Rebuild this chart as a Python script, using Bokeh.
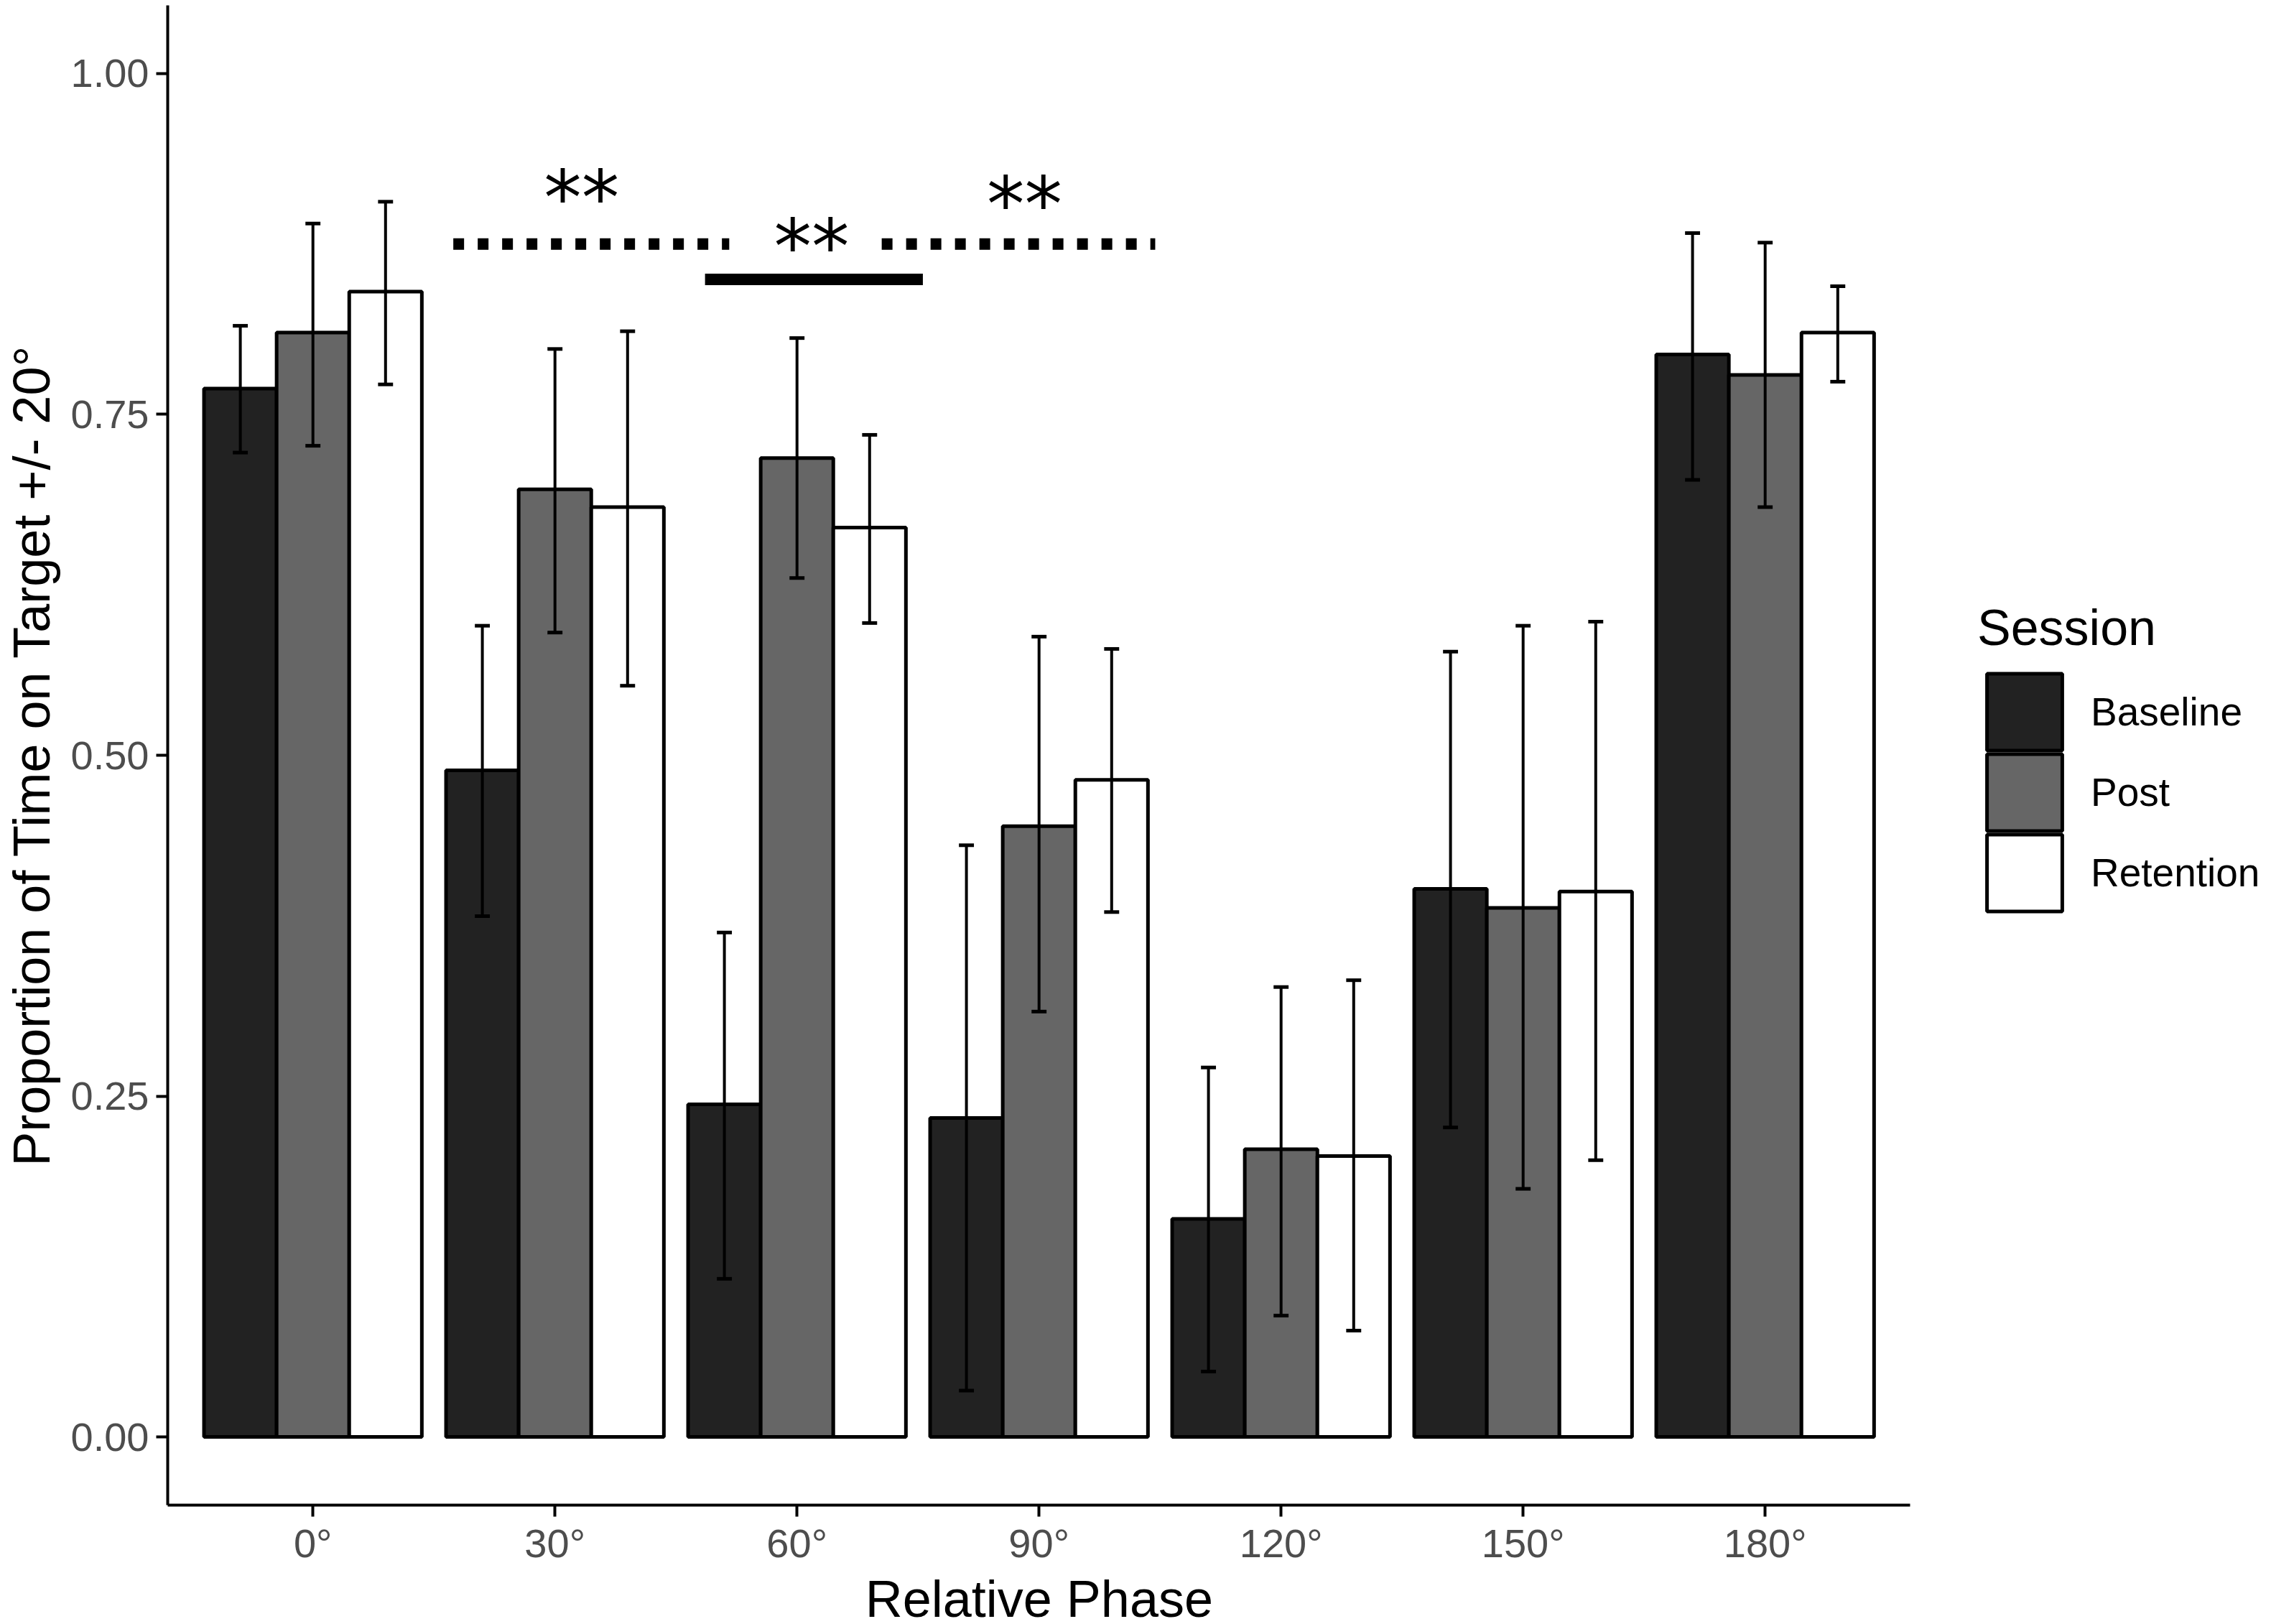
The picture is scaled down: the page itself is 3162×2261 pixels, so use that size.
from bokeh.plotting import figure
from bokeh.models import (ColumnDataSource, Legend, LegendItem, FixedTicker,
                          Range1d, NumeralTickFormatter, Title)
from bokeh.transform import dodge
from bokeh.core.properties import value
from bokeh.embed import file_html
from bokeh.resources import INLINE

# ---------------- data ----------------
phases = ["0°", "30°", "60°", "90°", "120°", "150°", "180°"]
sessions = ["Baseline", "Post", "Retention"]

baseline = [0.769, 0.489, 0.244, 0.234, 0.160, 0.402, 0.794]
baseline_lo = [0.722, 0.382, 0.116, 0.034, 0.048, 0.227, 0.702]
baseline_hi = [0.815, 0.595, 0.370, 0.434, 0.271, 0.576, 0.883]

post = [0.810, 0.695, 0.718, 0.448, 0.211, 0.388, 0.779]
post_lo = [0.727, 0.590, 0.630, 0.312, 0.089, 0.182, 0.682]
post_hi = [0.890, 0.798, 0.806, 0.587, 0.330, 0.595, 0.876]

retention = [0.840, 0.682, 0.667, 0.482, 0.206, 0.400, 0.810]
retention_lo = [0.772, 0.551, 0.597, 0.385, 0.078, 0.203, 0.774]
retention_hi = [0.906, 0.811, 0.735, 0.578, 0.335, 0.598, 0.844]

y_ticks = [0.0, 0.25, 0.5, 0.75, 1.0]

# significance annotations
dotted_x0 = [0.58, 2.35]
dotted_x1 = [1.72, 3.48]
dotted_y = [0.875, 0.875]
solid_x0 = [1.62]
solid_x1 = [2.52]
solid_y = [0.849]
star_x = [1.11, 2.06, 2.94]
star_y = [0.917, 0.881, 0.912]
star_text = ["**", "**", "**"]

# ---------------- figure ----------------
FONT = "Liberation Sans"
X_START, X_END_AXIS = -0.6, 6.6
PX_PER_UNIT = 337.0
FRAME_W, FRAME_H = 2916, 2088          # frame also hosts the legend on the right
x_end = X_START + FRAME_W / PX_PER_UNIT

p = figure(frame_width=FRAME_W, frame_height=FRAME_H,
           min_border_left=230, min_border_right=0,
           min_border_top=7, min_border_bottom=164,
           x_range=Range1d(X_START, x_end), y_range=Range1d(-0.05, 1.05),
           output_backend="svg", toolbar_location=None)
p.outline_line_color = None
p.xgrid.visible = False
p.ygrid.visible = False
p.background_fill_color = "white"

xs = list(range(len(phases)))
series = [
    (baseline, baseline_lo, baseline_hi, "#222222", -0.3),
    (post, post_lo, post_hi, "#666666", 0.0),
    (retention, retention_lo, retention_hi, "#FFFFFF", 0.3),
]

bar_renderers = []
for vals, lo, hi, color, off in series:
    src = ColumnDataSource(dict(x=xs, top=vals, lo=lo, hi=hi))
    r = p.vbar(x=dodge("x", off, range=p.x_range), top="top", bottom=0,
               width=0.3, source=src, fill_color=color,
               line_color="black", line_width=5)
    bar_renderers.append(r)

for vals, lo, hi, color, off in series:
    src = ColumnDataSource(dict(x=xs, top=vals, lo=lo, hi=hi))
    p.segment(x0=dodge("x", off, range=p.x_range), x1=dodge("x", off, range=p.x_range),
              y0="lo", y1="hi", source=src, line_color="black", line_width=4)
    for yy in ("lo", "hi"):
        p.segment(x0=dodge("x", off - 0.031, range=p.x_range),
                  x1=dodge("x", off + 0.031, range=p.x_range),
                  y0=yy, y1=yy, source=src, line_color="black", line_width=5)

# significance bars
p.segment(x0=dotted_x0, x1=dotted_x1, y0=dotted_y, y1=dotted_y,
          line_color="black", line_width=16, line_dash="15 19", line_cap="butt")
p.segment(x0=solid_x0, x1=solid_x1, y0=solid_y, y1=solid_y,
          line_color="black", line_width=16, line_cap="butt")
p.text(x=star_x, y=star_y, text=star_text, text_align="center",
       text_baseline="middle", y_offset=16,
       text_font=value("DejaVu Sans"), text_font_size="105px", text_color="black")

# axes
xa = p.xaxis[0]
xa.ticker = FixedTicker(ticks=xs)
xa.bounds = (X_START, X_END_AXIS)
xa.major_label_overrides = {i: lab for i, lab in enumerate(phases)}
ya = p.yaxis[0]
ya.ticker = FixedTicker(ticks=y_ticks)
ya.formatter = NumeralTickFormatter(format="0.00")
ya.axis_label = "Proportion of Time on Target +/- 20°"
for ax in (xa, ya):
    ax.axis_line_color = "black"
    ax.axis_line_width = 4
    ax.major_tick_line_color = "black"
    ax.major_tick_line_width = 4
    ax.major_tick_out = 16
    ax.major_tick_in = 0
    ax.minor_tick_line_color = None
    ax.major_label_text_font = FONT
    ax.major_label_text_font_size = "56px"
    ax.major_label_text_color = "#4D4D4D"
    ax.axis_label_text_font = FONT
    ax.axis_label_text_font_size = "72px"
    ax.axis_label_text_font_style = "normal"
    ax.axis_label_text_color = "black"
xa.major_label_standoff = 5
ya.major_label_standoff = 10
ya.axis_label_standoff = 12

# x-axis title, centred under the axis (the frame also holds the legend)
x_title = "Relative Phase"
title_w = 484
x_mid_px = (0.5 * (X_START + X_END_AXIS) - X_START) * PX_PER_UNIT
p.add_layout(Title(text=x_title, align="left", offset=x_mid_px - title_w / 2,
                   text_font=FONT, text_font_size="72px", text_font_style="normal",
                   text_color="black", standoff=2), "below")

# legend: one block per key so that the keys sit close together like ggplot's
GLYPH_W, GLYPH_H, PITCH = 131, 134, 112
LEG_X = 2520            # from frame left, px
LEG_BOTTOM0 = 1037      # bottom of first key block, from frame bottom, px
for k, (s, r) in enumerate(zip(sessions, bar_renderers)):
    leg = Legend(
        items=[LegendItem(label=s, renderers=[r])],
        location=(LEG_X, LEG_BOTTOM0 - k * PITCH), orientation="vertical",
        glyph_width=GLYPH_W, glyph_height=GLYPH_H, label_height=GLYPH_H,
        padding=0, margin=0, label_standoff=27, spacing=0,
        label_text_font=FONT, label_text_font_size="55px", label_text_color="black",
        border_line_color=None, background_fill_alpha=0,
    )
    if k == 0:
        leg.title = "Session"
        leg.title_text_font = FONT
        leg.title_text_font_size = "70px"
        leg.title_text_font_style = "normal"
        leg.title_text_color = "black"
        leg.title_standoff = 10
    p.add_layout(leg, "center")

open("out.html", "w").write(file_html(p, INLINE))
